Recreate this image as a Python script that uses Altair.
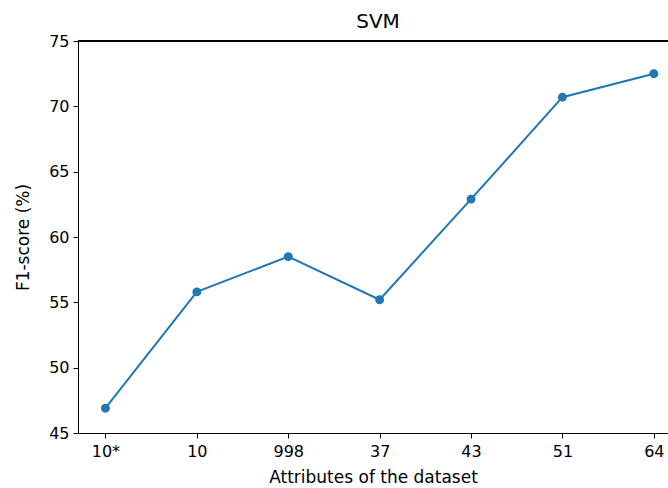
import json
import altair as alt
import pandas as pd

categories = ["10*", "10", "998", "37", "43", "51", "64"]
f1_scores = [46.9, 55.8, 58.5, 55.2, 62.9, 70.7, 72.5]
y_ticks = [45, 50, 55, 60, 65, 70, 75]

df = pd.DataFrame({"idx": list(range(len(categories))), "cat": categories, "f1": f1_scores})

label_expr = json.dumps(categories) + "[datum.value]"
font = "DejaVu Sans"
blue = "#1f77b4"
fs = 17

x = alt.X("idx:Q",
          scale=alt.Scale(domain=[-0.3, 6.155], nice=False, zero=False),
          axis=alt.Axis(values=list(range(len(categories))), labelExpr=label_expr,
                        title="Attributes of the dataset", grid=False,
                        domainColor="black", tickColor="black", tickSize=5,
                        labelColor="black", labelFont=font, labelFontSize=16,
                        labelPadding=5, titleFont=font, titleFontSize=fs,
                        titleFontWeight="normal", titleColor="black", titlePadding=10))
y = alt.Y("f1:Q",
          scale=alt.Scale(domain=[45, 75], nice=False, zero=False),
          axis=alt.Axis(values=y_ticks, title="F1-score (%)", grid=False,
                        domainColor="black", tickColor="black", tickSize=5,
                        labelColor="black", labelFont=font, labelFontSize=16,
                        labelPadding=4, titleFont=font, titleFontSize=fs,
                        titleFontWeight="normal", titleColor="black", titlePadding=16))

line = alt.Chart(df).mark_line(color=blue, strokeWidth=2).encode(x=x, y=y)
pts = alt.Chart(df).mark_circle(color=blue, size=80, opacity=1).encode(x=x, y=y)
top = alt.Chart(df).mark_rule(color="black", strokeWidth=1).encode(
    x=alt.value(0), x2=alt.value(590), y=alt.value(0))

chart = alt.layer(line, pts, top).properties(
    width=590, height=392,
    title=alt.TitleParams("SVM", font=font, fontSize=20, fontWeight="normal",
                          color="black", anchor="middle", dx=5, offset=1),
    autosize=alt.AutoSizeParams(type="none"),
    padding={"left": 78, "top": 41, "right": 0, "bottom": 55},
).configure_view(stroke=None).configure(background="white")

chart.save("out.html", embed_options={"renderer": "svg", "actions": False})
